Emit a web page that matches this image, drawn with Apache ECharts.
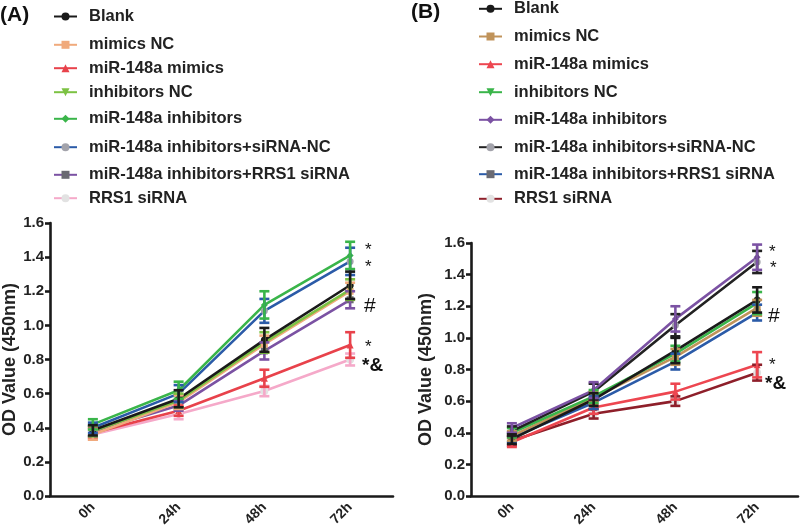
<!DOCTYPE html>
<html><head><meta charset="utf-8">
<script src="https://cdn.jsdelivr.net/npm/echarts@6/dist/echarts.min.js"></script>
<style>html,body{margin:0;background:#fff}#c{width:800px;height:532px}</style>
</head><body><div id="c"></div><script>
// ---------- data ----------
const categories = ['0h', '24h', '48h', '72h'];
const groupNames = ['Blank', 'mimics NC', 'miR-148a mimics', 'inhibitors NC', 'miR-148a inhibitors',
  'miR-148a inhibitors+siRNA-NC', 'miR-148a inhibitors+RRS1 siRNA', 'RRS1 siRNA'];
const yAxisName = 'OD Value (450nm)';

// Panel A means and SD
const aBlank = [0.385, 0.57, 0.915, 1.235];      const aBlankErr = [0.03, 0.05, 0.07, 0.08];
const aMimicsNC = [0.36, 0.55, 0.89, 1.20];      const aMimicsNCErr = [0.03, 0.04, 0.05, 0.05];
const aMimics = [0.37, 0.50, 0.69, 0.885];       const aMimicsErr = [0.03, 0.03, 0.05, 0.075];
const aInhNC = [0.38, 0.56, 0.90, 1.21];         const aInhNCErr = [0.03, 0.04, 0.06, 0.06];
const aInh = [0.42, 0.62, 1.12, 1.41];           const aInhErr = [0.03, 0.05, 0.08, 0.08];
const aInhSiNC = [0.40, 0.60, 1.085, 1.375];     const aInhSiNCErr = [0.03, 0.05, 0.07, 0.08];
const aInhSiRRS1 = [0.38, 0.53, 0.85, 1.15];     const aInhSiRRS1Err = [0.03, 0.03, 0.05, 0.05];
const aSiRRS1 = [0.36, 0.48, 0.615, 0.80];       const aSiRRS1Err = [0.03, 0.03, 0.03, 0.035];

// Panel B means and SD
const bBlank = [0.36, 0.61, 0.92, 1.24];         const bBlankErr = [0.03, 0.04, 0.08, 0.08];
const bMimicsNC = [0.38, 0.62, 0.88, 1.19];      const bMimicsNCErr = [0.03, 0.04, 0.05, 0.05];
const bMimics = [0.34, 0.56, 0.66, 0.83];        const bMimicsErr = [0.03, 0.04, 0.05, 0.08];
const bInhNC = [0.40, 0.63, 0.90, 1.22];         const bInhNCErr = [0.03, 0.04, 0.05, 0.07];
const bInh = [0.43, 0.67, 1.12, 1.51];           const bInhErr = [0.03, 0.05, 0.08, 0.08];
const bInhSiNC = [0.41, 0.66, 1.08, 1.48];       const bInhSiNCErr = [0.03, 0.05, 0.07, 0.07];
const bInhSiRRS1 = [0.37, 0.59, 0.85, 1.16];     const bInhSiRRS1Err = [0.03, 0.04, 0.05, 0.05];
const bSiRRS1 = [0.35, 0.52, 0.60, 0.78];        const bSiRRS1Err = [0.03, 0.03, 0.03, 0.05];

// significance marks next to 72h
const aMarks = ['*', '*', '#', '*', '*&'];
const bMarks = ['*', '*', '#', '*', '*&'];

// ---------- styling ----------
const FONT = '"Liberation Sans", Arial, sans-serif';
const AX = '#1a1a1a';
const panelA = {
  key: 'A', grid: 0,
  values: [aBlank, aMimicsNC, aMimics, aInhNC, aInh, aInhSiNC, aInhSiRRS1, aSiRRS1],
  errs: [aBlankErr, aMimicsNCErr, aMimicsErr, aInhNCErr, aInhErr, aInhSiNCErr, aInhSiRRS1Err, aSiRRS1Err],
  line: ['#1a1a1a', '#f0aa7c', '#e8424b', '#7cc243', '#3ab54a', '#2b5ba8', '#7b52a3', '#f5a9c9'],
  mark: ['#1a1a1a', '#f0aa7c', '#e8424b', '#7cc243', '#3ab54a', '#a3a3ab', '#6a6a72', '#e2e2e2'],
  legendLeft: 53, rows: [15, 43.3, 66.7, 90.7, 117.3, 145.7, 173.3, 196.7]
};
const panelB = {
  key: 'B', grid: 1,
  values: [bBlank, bMimicsNC, bMimics, bInhNC, bInh, bInhSiNC, bInhSiRRS1, bSiRRS1],
  errs: [bBlankErr, bMimicsNCErr, bMimicsErr, bInhNCErr, bInhErr, bInhSiNCErr, bInhSiRRS1Err, bSiRRS1Err],
  line: ['#1a1a1a', '#c0935a', '#ed4650', '#3ab54a', '#7b52a3', '#222222', '#2b5ba8', '#8e1f2a'],
  mark: ['#1a1a1a', '#c0935a', '#ed4650', '#3ab54a', '#7b52a3', '#a3a3ab', '#6a6a72', '#e2e2e2'],
  legendLeft: 478, rows: [7.3, 35, 62.7, 90.7, 118.3, 145.7, 172.7, 197.3]
};
const symbols = ['circle', 'rect', 'triangle', 'triangle', 'diamond', 'circle', 'rect', 'circle'];
const symbolRot = [0, 0, 0, 180, 0, 0, 0, 0];
const drawOrder = [7, 2, 6, 1, 3, 5, 4, 0];

const series = [];
const legends = [];
[panelA, panelB].forEach(p => {
  drawOrder.forEach(i => {
    const nm = p.key + '|' + groupNames[i];
    series.push({
      type: 'line', name: nm, xAxisIndex: p.grid, yAxisIndex: p.grid,
      data: p.values[i], symbol: symbols[i], symbolRotate: symbolRot[i],
      symbolSize: i === 7 ? 8 : 7, showSymbol: true,
      lineStyle: { color: p.line[i], width: 2.6 },
      itemStyle: { color: p.mark[i] },
      emphasis: { disabled: true }, animation: false, z: 2
    });
    const col = p.line[i];
    series.push({
      type: 'custom', name: nm + '_err', xAxisIndex: p.grid, yAxisIndex: p.grid,
      data: p.values[i].map((v, k) => [k, v, p.errs[i][k]]),
      encode: { x: 0, y: 1 }, animation: false, z: 3, silent: true,
      renderItem: (params, api) => {
        const x = api.value(0), y = api.value(1), e = api.value(2);
        const hi = api.coord([x, y + e]), lo = api.coord([x, y - e]);
        const c = 5, st = { stroke: col, lineWidth: 2.6 };
        return { type: 'group', children: [
          { type: 'line', shape: { x1: hi[0], y1: hi[1], x2: lo[0], y2: lo[1] }, style: st },
          { type: 'line', shape: { x1: hi[0] - c, y1: hi[1], x2: hi[0] + c, y2: hi[1] }, style: st },
          { type: 'line', shape: { x1: lo[0] - c, y1: lo[1], x2: lo[0] + c, y2: lo[1] }, style: st }
        ]};
      }
    });
  });
  groupNames.forEach((g, i) => {
    legends.push({
      data: [p.key + '|' + g], left: p.legendLeft, top: p.rows[i] - 7,
      orient: 'vertical', padding: 0, itemWidth: 23, itemHeight: 10,
      selectedMode: false,
      formatter: n => n.split('|')[1],
      textStyle: { fontFamily: FONT, fontWeight: 'bold', fontSize: 16.5, color: '#222', padding: [0, 0, 0, 7] }
    });
  });
});

function xAxis(gi) {
  return {
    type: 'category', gridIndex: gi, data: categories, boundaryGap: true,
    axisLine: { lineStyle: { color: AX, width: 2.6 } },
    axisTick: { alignWithLabel: true, length: 5, lineStyle: { color: AX, width: 2.6 } },
    axisLabel: { rotate: 45, fontFamily: FONT, fontWeight: 'bold', fontSize: 14, color: '#222', margin: 9 },
    splitLine: { show: false }
  };
}
function yAxis(gi, gap) {
  return {
    type: 'value', gridIndex: gi, min: 0, max: 1.6, interval: 0.2,
    axisLine: { show: true, lineStyle: { color: AX, width: 2.6 } },
    axisTick: { show: true, length: 5, lineStyle: { color: AX, width: 2.6 } },
    axisLabel: { formatter: v => v.toFixed(1), fontFamily: FONT, fontWeight: 'bold', fontSize: 15, color: '#222', margin: 6 },
    splitLine: { show: false },
    name: yAxisName, nameLocation: 'middle', nameGap: gap,
    nameTextStyle: { fontFamily: FONT, fontWeight: 'bold', fontSize: 18, color: '#222' }
  };
}

function markText(arr, pos) {
  return arr.map((t, k) => ({
    type: 'text', x: pos[k][0], y: pos[k][1],
    style: {
      text: t, fill: '#111', textVerticalAlign: 'middle',
      font: (t === '*&' ? 'bold 19px ' : (t === '#' ? '21px ' : '17px ')) + FONT
    }
  }));
}
const aMarkPos = [[365, 250], [365, 267], [364, 306], [365, 347], [362, 366]];
const bMarkPos = [[769, 252], [770, 268], [768, 316], [769, 365], [765, 384]];

const option = {
  backgroundColor: '#fff',
  animation: false,
  grid: [
    { left: 50, top: 223, width: 343, height: 273 },
    { left: 471, top: 243, width: 327, height: 253 }
  ],
  xAxis: [xAxis(0), xAxis(1)],
  yAxis: [yAxis(0, 31), yAxis(1, 36)],
  legend: legends,
  series: series,
  graphic: [
    { type: 'text', x: 0, y: 15, style: { text: '(A)', font: 'bold 21px ' + FONT, fill: '#111', textVerticalAlign: 'middle' } },
    { type: 'text', x: 411, y: 12, style: { text: '(B)', font: 'bold 21px ' + FONT, fill: '#111', textVerticalAlign: 'middle' } }
  ].concat(markText(aMarks, aMarkPos), markText(bMarks, bMarkPos))
};
const chart = echarts.init(document.getElementById('c'), null, { renderer: 'canvas' });
chart.setOption(option);
</script></body></html>
